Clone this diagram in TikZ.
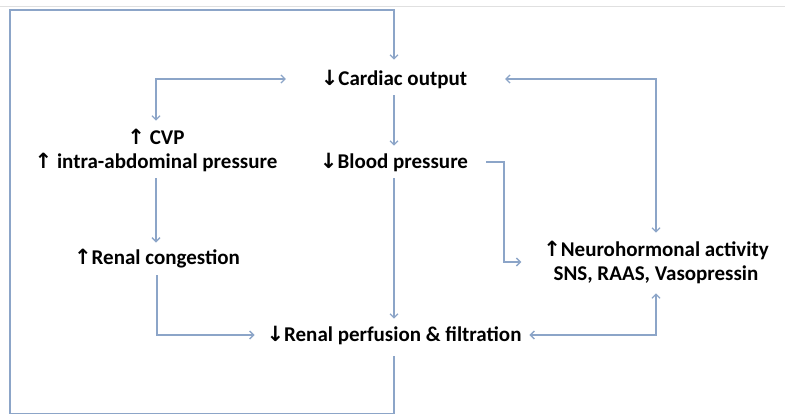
\documentclass[tikz,border=0pt]{standalone}
\usepackage{fontspec}
\setmainfont{Carlito}
\newfontfamily\arrfont{DejaVu Sans}
\usetikzlibrary{arrows.meta}
\newcommand{\UpArr}{{\arrfont\char"2191}}
\newcommand{\DnArr}{{\arrfont\char"2193}}
\definecolor{linec}{RGB}{140,165,200}
\begin{document}
\begin{tikzpicture}[x=1pt,y=-1pt,
  lbl/.style={font=\bfseries\fontsize{21}{24}\selectfont, inner sep=2pt, outer sep=0pt, align=center},
  conn/.style={draw=linec, line width=1.3pt, -{Straight Barb[length=4pt,width=8pt]}},
  biconn/.style={draw=linec, line width=1.3pt, {Straight Barb[length=4pt,width=8pt]}-{Straight Barb[length=4pt,width=8pt]}}]
\useasboundingbox (0,0) rectangle (785,413);
\draw[black!12, line width=1pt] (0,6) -- (785,6);

\node[lbl] (co) at (394,79) {\DnArr Cardiac output};
\node[lbl] (cvp) at (156,150) {\UpArr\ CVP\\ \UpArr\ intra-abdominal pressure};
\node[lbl] (bp) at (394,162) {\DnArr Blood pressure};
\node[lbl] (rc) at (157,259) {\UpArr Renal congestion};
\node[lbl] (nh) at (656,262) {\UpArr Neurohormonal activity\\SNS, RAAS, Vasopressin};
\node[lbl] (rp) at (394,335) {\DnArr Renal perfusion \& filtration};

\coordinate (bl) at (10,413.3);
\coordinate (tl) at (10,10);

\draw[conn, shorten <=5pt, shorten >=5pt] (co.south) -- (bp.north);
\draw[conn, shorten <=5pt, shorten >=5pt] (bp.south) -- (rp.north);
\draw[conn, shorten <=5pt, shorten >=5pt] (cvp.south) -- (cvp.south |- rc.north);
\draw[conn, shorten <=5pt, shorten >=10pt] (rc.south) |- (rp.west);
\draw[biconn, shorten <=33pt, shorten >=6pt] (co.west) -| (cvp.north);
\draw[biconn, shorten <=36pt, shorten >=6pt] (co.east) -| (nh.north);
\draw[biconn, shorten <=6pt, shorten >=8pt] (rp.east) -| (nh.south);
\draw[conn, shorten <=16pt, shorten >=20pt] (bp.east) -- ++(34,0) |- (nh.west);
\draw[conn, shorten <=10pt, shorten >=8pt] (rp.south) |- (bl) -- (tl) -| (co.north);
\end{tikzpicture}
\end{document}
